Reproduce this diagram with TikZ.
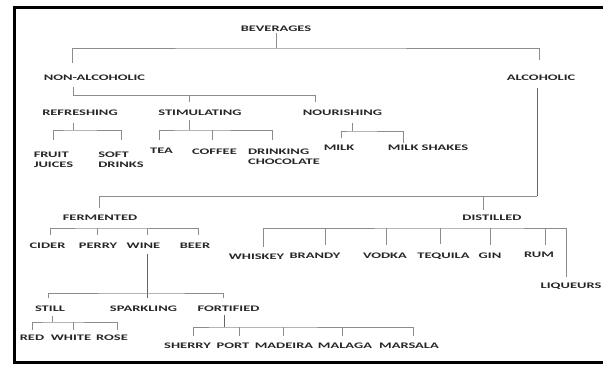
\documentclass[tikz,border=0pt]{standalone}
\usepackage{fontspec}
\setmainfont{Carlito}[FakeStretch=1.7]
\tikzset{
  item/.style={inner sep=1pt, font=\fontsize{8.5}{10}\selectfont\bfseries, text=black!85},
  link/.style={draw=black!45, line width=1pt},
}

\begin{document}
\begin{tikzpicture}[x=1pt,y=-1pt]
\useasboundingbox (0,0) rectangle (603,365);
\draw[line width=3pt] (603,7.5) -- (14.5,7.5) -- (14.5,362.5) -- (603,362.5);

% top levels
\node[item] (bev) at (276,29) {BEVERAGES};
\node[item] (nonalc) at (94.5,78) {NON-ALCOHOLIC};
\node[item] (alc) at (541,78) {ALCOHOLIC};
\node[item] (refr) at (80,113) {REFRESHING};
\node[item] (stim) at (200,113) {STIMULATING};
\node[item] (nour) at (342.5,113) {NOURISHING};
\node[item,align=left] (fruit) at (53.5,160) {FRUIT\\JUICES};
\node[item,align=left] (soft) at (121,160) {SOFT\\DRINKS};
\node[item] (tea) at (161.5,151) {TEA};
\node[item] (coffee) at (214.5,152) {COFFEE};
\node[item,align=left] (choc) at (284,157) {DRINKING\\CHOCOLATE};
\node[item] (milk) at (339,148) {MILK};
\node[item] (shakes) at (428,148) {MILK SHAKES};

% alcoholic side
\node[item] (ferm) at (100,218) {FERMENTED};
\node[item] (dist) at (492,218) {DISTILLED};
\node[item] (cider) at (47.5,246) {CIDER};
\node[item] (perry) at (98,246) {PERRY};
\node[item] (wine) at (143.5,246) {WINE};
\node[item] (beer) at (195,246) {BEER};
\node[item] (whiskey) at (256.5,257) {WHISKEY};
\node[item] (brandy) at (315,256) {BRANDY};
\node[item] (vodka) at (385,256) {VODKA};
\node[item] (tequila) at (443.5,256) {TEQUILA};
\node[item] (gin) at (490,256) {GIN};
\node[item] (rum) at (539,255) {RUM};
\node[item] (liqueurs) at (571,286) {LIQUEURS};
\node[item] (still) at (50,309) {STILL};
\node[item] (sparkling) at (143.5,309) {SPARKLING};
\node[item] (fortified) at (228.5,309) {FORTIFIED};
\node[item] (red) at (32,338) {RED};
\node[item] (white) at (71,338) {WHITE};
\node[item] (rose) at (112,338) {ROSE};
\node[item] (sherry) at (187.5,346) {SHERRY};
\node[item] (port) at (233,346) {PORT};
\node[item] (madeira) at (284,346) {MADEIRA};
\node[item] (malaga) at (345,346) {MALAGA};
\node[item] (marsala) at (409,346) {MARSALA};

% beverages
\coordinate (b-bev) at (276,48);
\draw[link] (bev) -- (b-bev);
\draw[link,shorten <=11pt,shorten >=14pt] ([xshift=-22.5pt]nonalc.north) |- (b-bev) -| ([xshift=-2pt]alc.north);

% non-alcoholic
\coordinate (b-non) at (73,95);
\draw[link,shorten <=5pt,shorten >=7pt] (nonalc.south -| b-non) -- (b-non) -| ([xshift=-27.5pt]nour.north);
\draw[link,shorten >=7pt] ([xshift=-11pt]stim.north |- b-non) -- ([xshift=-11pt]stim.north);

% refreshing
\coordinate (b-ref) at (73,130);
\draw[link,shorten <=6pt] (refr.south -| b-ref) -- (b-ref);
\draw[link,shorten <=11pt,shorten >=11pt] (fruit.north) |- (b-ref) -| (soft.north);

% stimulating
\coordinate (b-stim) at (189,130);
\draw[link,shorten <=3pt] ([xshift=-11pt]stim.south) -- (b-stim);
\draw[link,shorten <=7pt,shorten >=8pt] ([xshift=-2.5pt]tea.north) |- (b-stim) -| ([xshift=-12pt]choc.north);
\draw[link,shorten >=8pt] ([xshift=-2.5pt]coffee.north |- b-stim) -- ([xshift=-2.5pt]coffee.north);

% nourishing
\coordinate (b-nour) at (352,131);
\draw[link,shorten <=6pt] ([xshift=9.5pt]nour.south) -- (b-nour);
\draw[link,shorten <=6pt,shorten >=1pt] ([xshift=2pt]milk.north) |- (b-nour) -| ([xshift=-25pt]shakes.north);

% alcoholic
\coordinate (b-alc) at (537,196);
\draw[link,draw=black!60,shorten <=6pt] ([xshift=-4pt]alc.south) -- (b-alc);
\draw[link,shorten <=6pt] ([xshift=-1pt]ferm.north) |- (b-alc);
\draw[link,shorten >=4pt] ([xshift=-9pt]dist.north |- b-alc) -- ([xshift=-9pt]dist.north);

% fermented
\coordinate (b-ferm) at (100,228);
\draw[link,shorten <=7pt,shorten >=7pt] ([xshift=2.5pt]cider.north) |- (b-ferm) -| ([xshift=3pt]beer.north);
\draw[link,shorten >=7pt] ([xshift=-1pt]perry.north |- b-ferm) -- ([xshift=-1pt]perry.north);
\draw[link,shorten >=7pt] ([xshift=3.5pt]wine.north |- b-ferm) -- ([xshift=3.5pt]wine.north);

% wine
\coordinate (b-wine) at (147,293);
\draw[link,draw=black!60,shorten <=4pt,shorten >=7pt] ([xshift=3.5pt]wine.south) -- ([xshift=3.5pt]sparkling.north);
\draw[link,shorten <=7pt,shorten >=7pt] ([xshift=-2pt]still.north) |- (b-wine) -| ([xshift=-5.5pt]fortified.north);

% still
\coordinate (b-still) at (52,322);
\draw[link,shorten <=3pt] ([xshift=2pt]still.south) -- (b-still);
\draw[link,shorten <=4pt,shorten >=4pt] (red.north) |- (b-still) -| ([xshift=5pt]rose.north);
\draw[link,shorten >=4pt] ([xshift=2pt]white.north |- b-still) -- ([xshift=2pt]white.north);

% fortified
\coordinate (b-fort) at (224,327);
\draw[link,draw=black!60,shorten <=2pt] ([xshift=-4.5pt]fortified.south) -- (b-fort);
\draw[link,shorten <=6pt,shorten >=6pt] ([xshift=5.5pt]sherry.north) |- (b-fort) -| ([xshift=4pt]marsala.north);
\draw[link,shorten >=6pt] ([xshift=6pt]port.north |- b-fort) -- ([xshift=6pt]port.north);
\draw[link,shorten >=6pt] ([xshift=-1pt]madeira.north |- b-fort) -- ([xshift=-1pt]madeira.north);
\draw[link,shorten >=6pt] ([xshift=-3pt]malaga.north |- b-fort) -- ([xshift=-3pt]malaga.north);

% distilled
\coordinate (b-dist) at (483,228);
\draw[link,shorten <=6pt,shorten >=4pt] ([xshift=6.5pt]whiskey.north) |- (b-dist) -| ([xshift=-5pt]liqueurs.north);
\draw[link,shorten >=7pt] ([xshift=10pt]brandy.north |- b-dist) -- ([xshift=10pt]brandy.north);
\draw[link,shorten >=7pt] ([xshift=1pt]vodka.north |- b-dist) -- ([xshift=1pt]vodka.north);
\draw[link,shorten >=7pt] ([xshift=-3.5pt]tequila.north |- b-dist) -- ([xshift=-3.5pt]tequila.north);
\draw[link,shorten >=7pt] (gin.north |- b-dist) -- (gin.north);
\draw[link,shorten >=6pt] ([xshift=6pt]rum.north |- b-dist) -- ([xshift=6pt]rum.north);
\end{tikzpicture}
\end{document}
